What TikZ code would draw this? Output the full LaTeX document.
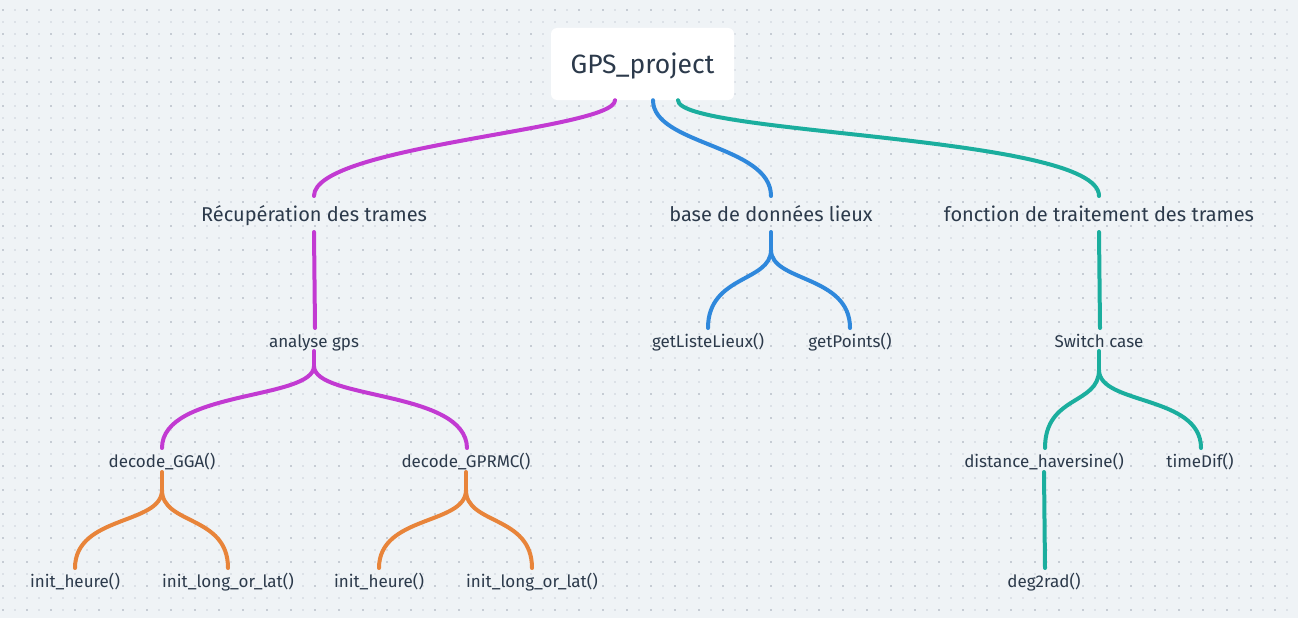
\documentclass[tikz,border=0pt]{standalone}
\usepackage{fontspec}
\setmainfont{Fira Sans}
\definecolor{bg}{HTML}{EFF3F6}
\definecolor{dotl}{HTML}{DCE1E7}
\definecolor{dotd}{HTML}{C6CCD4}
\definecolor{ink}{HTML}{2C3A4B}
\definecolor{cmag}{HTML}{C23AD2}
\definecolor{cblue}{HTML}{2F88DC}
\definecolor{cteal}{HTML}{1BAE9E}
\definecolor{corange}{HTML}{E8843A}
\begin{document}
\begin{tikzpicture}[x=1pt,y=-1pt,
  rootbox/.style={fill=white, rounded corners=6pt, minimum width=183pt, minimum height=72pt,
    inner sep=0pt, text=ink, font=\fontsize{26.5}{26.5}\selectfont, text height=22pt, text depth=3pt},
  lvlone/.style={inner sep=0pt, anchor=base, text=ink, font=\fontsize{20}{20}\selectfont},
  lvltwo/.style={inner sep=0pt, anchor=base, text=ink, font=\fontsize{17}{17}\selectfont},
  link/.style={line width=4pt, line cap=round},
  mag/.style={link, draw=cmag},
  blu/.style={link, draw=cblue},
  tea/.style={link, draw=cteal},
  ora/.style={link, draw=corange},
  dotlight/.style={draw=dotl, line width=1.5pt, dash pattern=on 1.5pt off 10.5pt},
  dotdark/.style={draw=dotd, line width=1.5pt, dash pattern=on 1.5pt off 22.5pt}
]
\useasboundingbox (0,0) rectangle (1298,618);
\fill[bg] (0,0) rectangle (1298,618);
\foreach \r in {0,...,50} { \draw[dotlight] (2.25,{10+12*\r}) -- (1298,{10+12*\r}); }
\foreach \r in {0,...,25} { \draw[dotdark] (2.25,{10+24*\r}) -- (1298,{10+24*\r}); }

% nodes
\node[rootbox] (root) at (642.5,64) {GPS\_project};
\node[lvlone] (rec) at (314,221) {Récupération des trames};
\node[lvlone] (bdd) at (771,221) {base de données lieux};
\node[lvlone] (fct) at (1099,221) {fonction de traitement des trames};

\node[lvltwo] (ana) at (314,347) {analyse gps};
\node[lvltwo] (gll) at (708,347) {getListeLieux()};
\node[lvltwo] (gpt) at (850,347) {getPoints()};
\node[lvltwo] (sw) at (1099,347) {Switch case};

\node[lvltwo] (gga) at (162,467) {decode\_GGA()};
\node[lvltwo] (rmc) at (466,467) {decode\_GPRMC()};
\node[lvltwo] (dh) at (1044,467) {distance\_haversine()};
\node[lvltwo] (td) at (1200,467) {timeDif()};

\node[lvltwo] (ih1) at (75,587) {init\_heure()};
\node[lvltwo] (il1) at (228,587) {init\_long\_or\_lat()};
\node[lvltwo] (ih2) at (379,587) {init\_heure()};
\node[lvltwo] (il2) at (532,587) {init\_long\_or\_lat()};
\node[lvltwo] (d2r) at (1044,587) {deg2rad()};

% root connectors
\draw[mag] ([xshift=-27.5pt]root.south) .. controls (615,130) and (314,145) .. ([yshift=25pt]rec.base);
\draw[blu] ([xshift=10.5pt]root.south) .. controls (653,145) and (771,145) .. ([yshift=25pt]bdd.base);
\draw[tea] ([xshift=35.5pt]root.south) .. controls (678,135) and (1099,135) .. ([yshift=25pt]fct.base);

% level 1 -> level 2
\draw[mag] ([yshift=-11pt]rec.base) -- ([yshift=19pt,xshift=1pt]ana.base);
\draw[tea] ([yshift=-11pt]fct.base) -- ([yshift=19pt,xshift=1pt]sw.base);
\coordinate (bddf) at (771,250);
\draw[blu] ([yshift=-11pt]bdd.base) -- (bddf);
\draw[blu] (bddf) .. controls (771,282) and (708,275) .. ([yshift=19pt]gll.base);
\draw[blu] (bddf) .. controls (771,282) and (850,275) .. ([yshift=19pt]gpt.base);

% level 2 -> level 3
\coordinate (anaf) at (314,366);
\draw[mag] ([yshift=-4pt]ana.base) -- (anaf);
\draw[mag] (anaf) .. controls (314,400) and (162,390) .. ([yshift=19pt]gga.base);
\draw[mag] (anaf) .. controls (314,400) and (466,390) .. ([yshift=19pt,xshift=1pt]rmc.base);
\coordinate (swf) at (1099,370);
\draw[tea] ([yshift=-4pt]sw.base) -- (swf);
\draw[tea] (swf) .. controls (1099,405) and (1045,395) .. ([yshift=19pt,xshift=1pt]dh.base);
\draw[tea] (swf) .. controls (1099,405) and (1201,395) .. ([yshift=19pt,xshift=1pt]td.base);

% level 3 -> level 4
\coordinate (ggaf) at (162,490);
\draw[ora] ([yshift=-5pt]gga.base) -- (ggaf);
\draw[ora] (ggaf) .. controls (162,525) and (75,515) .. ([yshift=19pt]ih1.base);
\draw[ora] (ggaf) .. controls (162,525) and (228,515) .. ([yshift=19pt]il1.base);
\coordinate (rmcf) at (466,490);
\draw[ora] ([yshift=-5pt]rmc.base) -- (rmcf);
\draw[ora] (rmcf) .. controls (466,525) and (379,515) .. ([yshift=19pt]ih2.base);
\draw[ora] (rmcf) .. controls (466,525) and (532,515) .. ([yshift=19pt]il2.base);
\draw[tea] ([yshift=-5pt]dh.base) -- ([yshift=19pt,xshift=1pt]d2r.base);
\end{tikzpicture}
\end{document}
